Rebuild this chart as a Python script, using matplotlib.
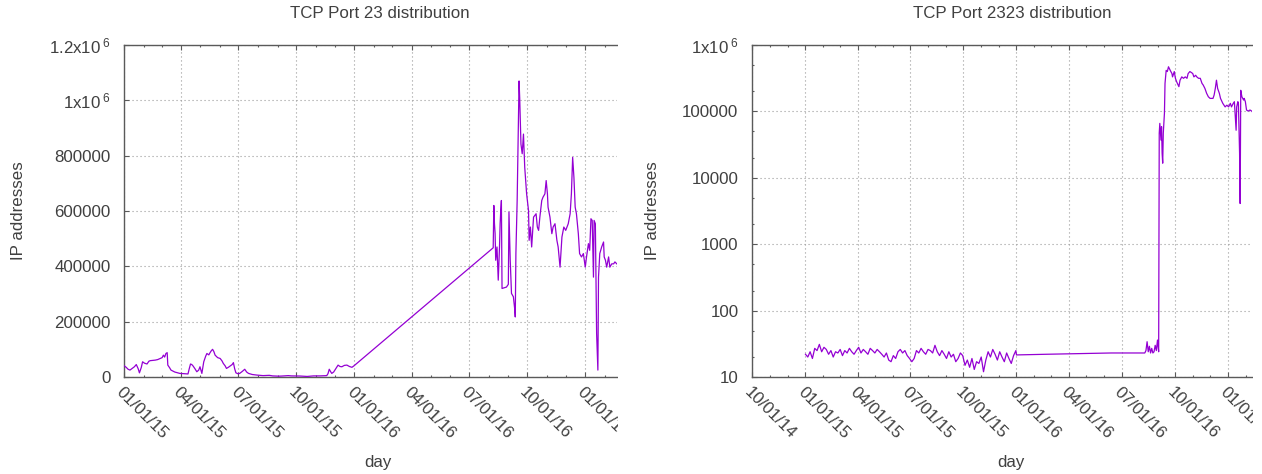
import numpy as np
import matplotlib
matplotlib.use("Agg")
import matplotlib.pyplot as plt
import matplotlib.dates as mdates
from matplotlib.ticker import FixedLocator, FixedFormatter, NullFormatter, LogLocator
from matplotlib.patches import Rectangle

# ---------------------------------------------------------------- data
EPOCH = np.datetime64("2015-01-01")

# TCP port 23: days since 2015-01-01 and distinct source IP addresses
p23_days = [
    0, 3, 6, 9, 12, 16, 19, 22, 24, 27, 29, 32, 36, 39, 41, 45, 49, 53, 57, 60,
    62, 64, 66, 68, 69, 72, 74, 80, 88, 95, 101, 103, 105, 107, 109, 112, 115, 118, 120, 123,
    126, 129, 131, 134, 136, 138, 140, 142, 144, 148, 152, 155, 157, 160, 162, 165, 168, 171, 173, 175,
    177, 180, 183, 187, 191, 194, 197, 203, 210, 220, 230, 235, 245, 250, 260, 265, 279, 290, 295, 300,
    310, 321, 323, 325, 327, 329, 332, 334, 337, 339, 342, 345, 349, 353, 357, 361, 364,
    585, 586, 587, 588, 589, 591, 593, 595, 596, 597, 598, 599, 606, 609, 610, 612, 614, 617, 619, 620,
    621, 623, 625, 626, 627, 629, 631, 633, 635, 638, 641, 642, 644, 646, 649, 653, 655, 657, 659, 662,
    664, 667, 669, 671, 672, 675, 678, 680, 683, 686, 688, 691, 694, 697, 700, 704, 707, 709, 711, 713,
    715, 717, 720, 722, 725, 728, 731, 733, 736, 738, 740, 742, 744, 745, 747, 749, 751, 752, 754, 757,
    760, 761, 763, 765, 768, 770, 773, 776, 778, 781,
]
p23_ips = [
    40000, 35000, 28000, 25000, 30000, 37000, 45000, 30000, 15000, 35000,
    55000, 50000, 47000, 57000, 59000, 60000, 61000, 63000, 67000, 70000,
    79000, 72000, 85000, 88000, 43000, 33000, 25000, 18000, 13000, 12000,
    11000, 30000, 47000, 45000, 40000, 30000, 19000, 25000, 37000, 13000,
    55000, 75000, 85000, 80000, 88000, 95000, 100000, 92000, 79000, 70000,
    67000, 58000, 49000, 40000, 31000, 35000, 40000, 45000, 52000, 30000,
    15000, 12000, 13000, 20000, 28000, 18000, 13000, 9000, 7000, 5000,
    6000, 4000, 3000, 3500, 5000, 4000, 3500, 2000, 3000, 4000,
    4000, 5000, 12000, 28000, 20000, 13000, 18000, 25000, 35000, 43000,
    38000, 37000, 42000, 43000, 38000, 35000, 40000,
    467000, 620000, 554000, 519000, 422000, 470000, 350000, 469000, 555000, 602000,
    638000, 320000, 325000, 335000, 596000, 422000, 302000, 290000, 248000, 217000,
    447000, 638000, 926000, 1070000, 1010000, 842000, 807000, 878000, 758000, 662000,
    602000, 494000, 542000, 470000, 578000, 590000, 542000, 530000, 578000, 638000,
    650000, 662000, 710000, 662000, 614000, 578000, 518000, 542000, 554000, 494000,
    470000, 397000, 506000, 542000, 530000, 554000, 590000, 662000, 794000, 722000,
    614000, 590000, 518000, 446000, 434000, 446000, 397000, 434000, 482000, 458000,
    572000, 566000, 361000, 566000, 554000, 157000, 25000, 361000, 446000, 470000,
    488000, 434000, 422000, 397000, 434000, 397000, 409000, 409000, 416000, 409000,
]

# TCP port 2323: 2015 sampled every fourth day, then the 2016-2017 readings
p2323_days_2015 = np.arange(0, 365, 4)
p2323_ips_2015 = [
    22, 20, 24, 19, 27, 25, 31, 24, 28, 26, 22, 25, 20, 24, 23, 26, 21, 25, 23, 27, 24, 22, 25,
    28, 23, 26, 24, 22, 27, 25, 23, 26, 24, 22, 20, 23, 18, 17, 21, 19, 24, 26, 23, 25, 21, 19,
    17, 19, 25, 23, 27, 24, 22, 26, 25, 23, 30, 24, 21, 25, 22, 19, 24, 20, 22, 17, 19, 23, 21,
    15, 18, 14, 19, 13, 17, 16, 20, 12, 18, 24, 20, 26, 22, 18, 24, 20, 17, 23, 19, 16, 21, 25,
]
p2323_days_late = [
    365, 417, 529, 585, 587, 589, 591, 593, 595, 597, 599, 601, 603, 605, 607, 609, 611,
    612, 613, 615, 616, 617, 618, 619, 621, 622, 624, 626, 628, 631, 634, 635, 638, 640, 642,
    646, 648, 651, 654, 657, 660, 662, 665, 668, 670, 672, 675, 677, 680, 683, 686, 688, 691,
    694, 697, 700, 705, 707, 709, 711, 713, 716, 718, 722, 726, 729, 732, 735, 737, 740, 742,
    744, 745, 746, 748, 749, 751, 752, 753, 755, 758, 759, 761, 763, 766, 769, 772, 775,
]
p2323_ips_late = [
    21.5, 22, 23, 23, 23, 25, 34, 24, 29, 23, 27, 23, 24, 30, 25, 36, 24,
    47000, 66000, 37000, 59000, 23400, 16600, 47000, 94000, 264000, 415000, 398000, 470000,
    415000, 371000, 331000, 398000, 315000, 281000,
    236000, 295000, 331000, 315000, 331000, 315000, 371000, 398000, 383000, 371000, 331000,
    350000, 331000, 315000, 315000, 264000, 250000, 222000,
    187000, 166000, 157000, 157000, 177000, 222000, 295000, 222000, 187000, 157000, 132000,
    117000, 124000, 117000, 132000, 117000, 132000, 140000,
    74000, 52000, 117000, 140000, 130000, 23400, 4100, 208000, 166000, 148000, 157000,
    140000, 105000, 101000, 105000, 101000, 94000,
]

# axis tick values and labels
p23_yticks = [0, 200000, 400000, 600000, 800000, 1000000, 1200000]
p23_ylabels = ["0", "200000", "400000", "600000", "800000",
               r"1x10$^{\;6}$", r"1.2x10$^{\;6}$"]
p2323_yticks = [10, 100, 1000, 10000, 100000, 1000000]
p2323_ylabels = ["10", "100", "1000", "10000", "100000", r"1x10$^{\;6}$"]

# ---------------------------------------------------------------- style
plt.rcParams["font.family"] = ["Liberation Sans", "DejaVu Sans"]
plt.rcParams["mathtext.fontset"] = "custom"
plt.rcParams["mathtext.rm"] = "Liberation Sans"
plt.rcParams["mathtext.it"] = "Liberation Sans:italic"
plt.rcParams["mathtext.bf"] = "Liberation Sans:bold"

W, H = 1262, 474
FS = 12.2
TXT = "#404040"
EDGE = "#5a5a5a"
LINE = "#9400d3"

fig = plt.figure(figsize=(W / 100, H / 100), dpi=100)


def px_axes(left, top, right, bottom):
    return fig.add_axes([left / W, 1 - bottom / H, (right - left) / W, (bottom - top) / H])


def to_dates(days):
    return EPOCH + np.asarray(days, dtype="timedelta64[D]")


def style_axes(ax):
    ax.spines["right"].set_visible(False)
    for s in ("left", "top", "bottom"):
        ax.spines[s].set_color(EDGE)
        ax.spines[s].set_linewidth(1.0)
    ax.xaxis.set_major_locator(mdates.MonthLocator(bymonth=[1, 4, 7, 10]))
    ax.xaxis.set_minor_locator(mdates.MonthLocator())
    ax.xaxis.set_major_formatter(mdates.DateFormatter("%m/%d/%y"))
    ax.tick_params(which="both", direction="in", top=True, right=False,
                   color=EDGE, width=0.8, labelsize=FS, labelcolor=TXT)
    ax.tick_params(which="major", length=3.4)
    ax.tick_params(which="minor", length=1.6)
    ax.tick_params(axis="x", which="major", pad=5.5)
    ax.tick_params(axis="y", which="major", pad=10)
    ax.grid(True, which="major", linestyle=(0, (1, 2.6)), color="#9a9a9a", linewidth=0.8)
    ax.set_axisbelow(True)
    for lbl in ax.get_xticklabels():
        lbl.set_rotation(-45)
        lbl.set_ha("left")
        lbl.set_va("top")
        lbl.set_rotation_mode("anchor")


t0 = mdates.date2num(EPOCH)

# ---------------------------------------------------------------- port 23
ax1 = px_axes(124.3, 45, 617.3, 377)
ax1.plot(to_dates(p23_days), p23_ips, color=LINE, linewidth=0.9, zorder=3)
ax1.set_xlim(t0, t0 + 781.8)
ax1.set_ylim(0, 1200000)
ax1.yaxis.set_major_locator(FixedLocator(p23_yticks))
ax1.yaxis.set_major_formatter(FixedFormatter(p23_ylabels))
style_axes(ax1)

# ---------------------------------------------------------------- port 2323
ax2 = px_axes(752.3, 45, 1252.3, 377)
ax2.plot(np.concatenate([to_dates(p2323_days_2015), to_dates(p2323_days_late)]),
         list(p2323_ips_2015) + list(p2323_ips_late),
         color=LINE, linewidth=0.9, zorder=3)
ax2.set_yscale("log")
ax2.set_xlim(mdates.date2num(np.datetime64("2014-10-01")), t0 + 773)
ax2.set_ylim(10, 1000000)
ax2.yaxis.set_major_locator(FixedLocator(p2323_yticks))
ax2.yaxis.set_major_formatter(FixedFormatter(p2323_ylabels))
ax2.yaxis.set_minor_locator(LogLocator(base=10, subs=(2.0, 5.0)))
ax2.yaxis.set_minor_formatter(NullFormatter())
style_axes(ax2)

# ---------------------------------------------------------------- titles and axis labels
for cx, title in ((380, "TCP Port 23 distribution"), (1012, "TCP Port 2323 distribution")):
    fig.text(cx / W, 1 - 14 / H, title, ha="center", va="center", fontsize=FS, color=TXT)
for cx in (378, 1011):
    fig.text(cx / W, 1 - 463 / H, "day", ha="center", va="center", fontsize=FS, color=TXT)
for cx in (19, 652.5):
    fig.text(cx / W, 1 - 211 / H, "IP addresses", ha="center", va="center",
             rotation=90, fontsize=FS, color=TXT)

# each panel ends at a hard edge on the right
fig.add_artist(Rectangle((617.8 / W, 0), (644 - 617.8) / W, 1, transform=fig.transFigure,
                         facecolor="white", edgecolor="none", zorder=100))
fig.add_artist(Rectangle((1252.8 / W, 0), (W - 1252.8) / W, 1, transform=fig.transFigure,
                         facecolor="white", edgecolor="none", zorder=100))

fig.savefig("out.png", dpi=100, facecolor="white")
